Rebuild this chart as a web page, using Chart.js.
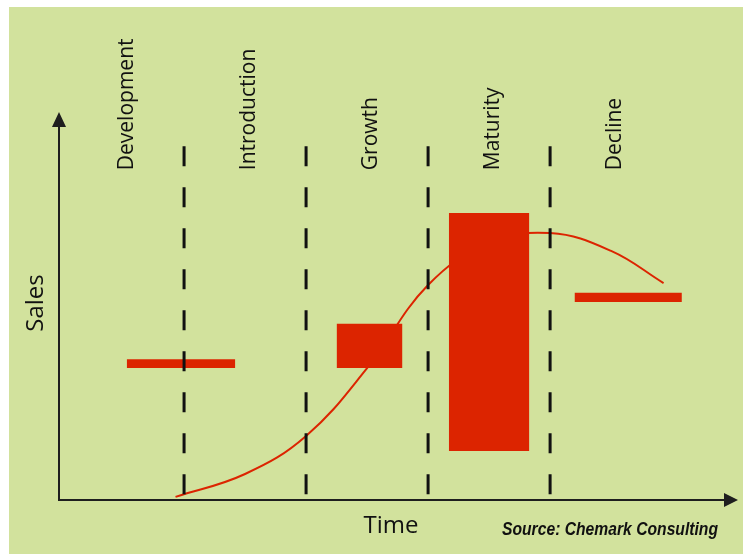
<!DOCTYPE html>
<html>
<head>
<meta charset="utf-8">
<script src="https://cdn.jsdelivr.net/npm/chart.js@4/dist/chart.umd.min.js"></script>
<style>
  html, body { margin: 0; padding: 0; background: #fff; }
  #wrap { width: 743px; height: 554px; }
</style>
</head>
<body>
<div id="wrap"><canvas id="lifecycle" width="743" height="554"></canvas></div>
<script>
// product life cycle stages, x in "stage" units, y in sales units (0-100)
const stageNames = ["Development", "Introduction", "Growth", "Maturity", "Decline"];
const stageBounds = [1, 2, 3, 4];
const boundTop = 91.2;

// red blocks per stage (start / end on time axis, low / high on sales axis)
const blockStart = [0.53, 2.25, 3.17, 4.20];
const blockEnd = [1.42, 2.79, 3.83, 5.08];
const blockLow = [34.0, 34.0, 12.6, 51.0];
const blockHigh = [36.3, 45.4, 74.0, 53.4];

// sales curve
const curveX = [0.93, 1.5, 2.0, 2.5, 3.0, 3.5, 4.0, 4.5, 4.93];
const curveY = [0.8, 6.7, 16.5, 34.0, 55.4, 66.2, 68.8, 64.2, 55.9];

const RED = "#dc2400";
const INK = "#111111";
const BG = "#d2e29d";

const datasets = [];

stageBounds.forEach((b) => {
    datasets.push({
        data: [{ x: b, y: boundTop }, { x: b, y: 0 }],
        showLine: true,
        borderColor: INK,
        borderWidth: 3,
        borderDash: [20, 21],
        pointRadius: 0,
        fill: false,
        order: 0,
    });
});

blockStart.forEach((s, i) => {
    datasets.push({
        data: [{ x: s, y: blockHigh[i] }, { x: blockEnd[i], y: blockHigh[i] }],
        showLine: true,
        borderWidth: 0,
        borderColor: "rgba(0,0,0,0)",
        backgroundColor: RED,
        pointRadius: 0,
        fill: { value: blockLow[i] },
        order: 1,
    });
});

datasets.push({
    data: curveX.map((x, i) => ({ x, y: curveY[i] })),
    showLine: true,
    borderColor: RED,
    borderWidth: 2,
    tension: 0.4,
    pointRadius: 0,
    fill: false,
    order: 2,
});

const decorPlugin = {
    id: "decor",
    beforeDraw(chart) {
        const ctx = chart.ctx;
        ctx.save();
        ctx.fillStyle = "#ffffff";
        ctx.fillRect(0, 0, chart.width, chart.height);
        ctx.fillStyle = BG;
        ctx.fillRect(9, 7, chart.width - 9, chart.height - 7);
        ctx.restore();
    },
    afterDraw(chart) {
        const ctx = chart.ctx;
        const { left, right, top, bottom } = chart.chartArea;
        const xs = chart.scales.x;
        const ys = chart.scales.y;
        ctx.save();

        // axes with arrow heads
        ctx.strokeStyle = "#1e1e1e";
        ctx.lineWidth = 2;
        ctx.beginPath();
        ctx.moveTo(left, top + 8);
        ctx.lineTo(left, bottom);
        ctx.lineTo(right - 8, bottom);
        ctx.stroke();
        ctx.fillStyle = "#1e1e1e";
        ctx.beginPath();
        ctx.moveTo(left, top);
        ctx.lineTo(left - 7, top + 15);
        ctx.lineTo(left + 7, top + 15);
        ctx.closePath();
        ctx.fill();
        ctx.beginPath();
        ctx.moveTo(right, bottom);
        ctx.lineTo(right - 14, bottom - 7);
        ctx.lineTo(right - 14, bottom + 7);
        ctx.closePath();
        ctx.fill();

        // stage names
        ctx.fillStyle = INK;
        ctx.font = '21px "Open Sans"';
        ctx.textAlign = "left";
        ctx.textBaseline = "alphabetic";
        stageNames.forEach((name, i) => {
            const px = xs.getPixelForValue(i + 0.5) + 10;
            const py = ys.getPixelForValue(85);
            ctx.save();
            ctx.translate(px, py);
            ctx.rotate(-Math.PI / 2);
            ctx.fillText(name, 0, 0);
            ctx.restore();
        });

        // axis titles
        ctx.font = '24px "Open Sans"';
        ctx.textAlign = "center";
        ctx.fillText("Time", 391, 533);
        ctx.save();
        ctx.translate(43, 303);
        ctx.rotate(-Math.PI / 2);
        ctx.fillText("Sales", 0, 0);
        ctx.restore();

        // source note, condensed bold italic
        ctx.font = 'italic bold 18px "Liberation Sans"';
        ctx.textAlign = "left";
        const note = "Source: Chemark Consulting";
        const w = ctx.measureText(note).width;
        ctx.save();
        ctx.translate(502, 535);
        ctx.scale(216 / w, 1);
        ctx.fillText(note, 0, 0);
        ctx.restore();

        ctx.restore();
    },
};

new Chart(document.getElementById("lifecycle"), {
    type: "scatter",
    data: { datasets },
    options: {
        responsive: false,
        animation: false,
        layout: { padding: { left: 59, right: 5, top: 112, bottom: 54 } },
        plugins: {
            legend: { display: false },
            tooltip: { enabled: false },
        },
        scales: {
            x: { type: "linear", display: false, min: -0.025, max: 5.54 },
            y: { type: "linear", display: false, min: 0, max: 100 },
        },
    },
    plugins: [decorPlugin],
});
</script>
</body>
</html>
